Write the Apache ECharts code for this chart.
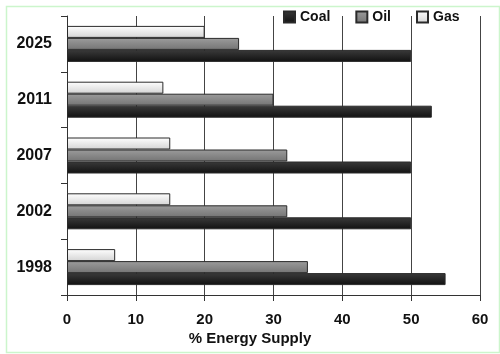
<!DOCTYPE html>
<html>
<head>
<meta charset="utf-8">
<script src="https://cdn.jsdelivr.net/npm/echarts@6/dist/echarts.min.js"></script>
<style>
html,body{margin:0;padding:0;background:#fff;}
#chart{width:500px;height:354px;}
</style>
</head>
<body>
<div id="chart"></div>
<script>
// data
const years = ['1998', '2002', '2007', '2011', '2025'];
const coal = [55, 50, 50, 53, 50];
const oil = [35, 32, 32, 30, 25];
const gas = [7, 15, 15, 14, 20];
const xTicks = [0, 10, 20, 30, 40, 50, 60];

const font = 'Liberation Sans, Arial, sans-serif';

function grad(top, bottom) {
	return new echarts.graphic.LinearGradient(0, 0, 0, 1, [
		{offset: 0, color: top},
		{offset: 1, color: bottom}
	]);
}

function bar(name, data, top, bottom) {
	return {
		name: name,
		type: 'bar',
		data: data,
		barWidth: 12,
		barGap: '0%',
		itemStyle: {color: grad(top, bottom), borderColor: '#2a2a2a', borderWidth: 1},
		emphasis: {disabled: true}
	};
}

let myChart = echarts.init(document.getElementById('chart'));
myChart.setOption({
	animation: false,
	backgroundColor: '#fff',
	graphic: [{
		type: 'rect',
		left: 4, top: 4,
		shape: {width: 493, height: 346},
		style: {fill: 'none', stroke: '#ccf5cc', lineWidth: 1.5},
		z: -10
	}],
	title: {
		text: '% Energy Supply',
		left: 'center',
		top: 326,
		textStyle: {fontFamily: font, fontWeight: 'bold', fontSize: 15, color: '#111'}
	},
	legend: {
		left: 283,
		top: 10,
		padding: 0,
		itemWidth: 11,
		itemHeight: 11,
		itemGap: 25,
		icon: 'rect',
		textStyle: {fontFamily: font, fontWeight: 'bold', fontSize: 14, color: '#111'},
		data: ['Coal', 'Oil', 'Gas']
	},
	grid: {left: 67, right: 20, top: 16, bottom: 59},
	xAxis: {
		type: 'value',
		min: xTicks[0],
		max: xTicks[xTicks.length - 1],
		interval: 10,
		axisLine: {show: true, lineStyle: {color: '#333', width: 1}},
		axisTick: {show: true, length: 6, lineStyle: {color: '#333'}},
		axisLabel: {margin: 17, fontFamily: font, fontWeight: 'bold', fontSize: 15, color: '#111'},
		splitLine: {show: true, lineStyle: {color: '#444', width: 1}}
	},
	yAxis: {
		type: 'category',
		data: years,
		axisLine: {show: true, lineStyle: {color: '#333', width: 1}},
		axisTick: {show: true, length: 6, lineStyle: {color: '#333'}},
		axisLabel: {margin: 15, fontFamily: font, fontWeight: 'bold', fontSize: 16, color: '#111'}
	},
	// gas first so it sits on top within each year, coal at the bottom
	series: [
		bar('Gas', gas, '#ffffff', '#d4d4d4'),
		bar('Oil', oil, '#9c9c9c', '#747474'),
		bar('Coal', coal, '#3a3a3a', '#111')
	]
});
</script>
</body>
</html>
